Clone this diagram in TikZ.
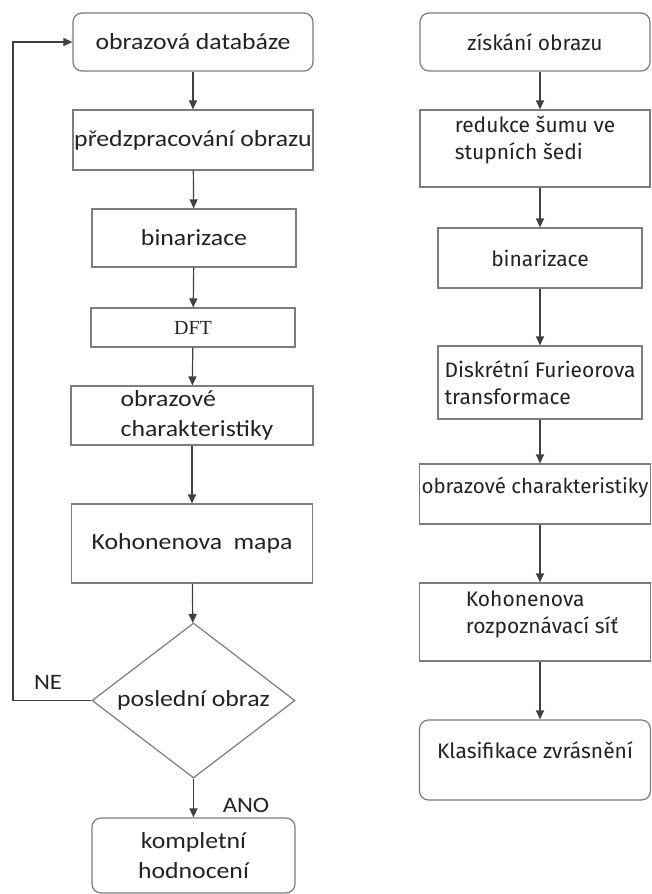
\documentclass[tikz,border=0pt]{standalone}
\usepackage{fontspec}
\setmainfont{Carlito}[FakeStretch=1.12]
\newfontfamily\rightfont{Fira Sans}
\newfontfamily\dftfont{Liberation Serif}
\usepackage{tikz}
\usetikzlibrary{shapes.geometric, arrows.meta, positioning}
\definecolor{boxgray}{RGB}{125,125,125}
\definecolor{textgray}{RGB}{35,35,35}

\begin{document}
\begin{tikzpicture}[x=1pt, y=-1pt,
  box/.style={rectangle, draw=boxgray, line width=1.2pt, inner sep=1pt,
              text=textgray, font=\fontsize{23}{30}\selectfont, align=center},
  rbox/.style={box, rounded corners=9pt},
  rtbox/.style={box, font=\rightfont\fontsize{21}{27}\selectfont, align=left},
  decision/.style={diamond, aspect=1.31, draw=boxgray, line width=1.2pt, inner sep=0pt,
              text=textgray, font=\fontsize{23}{30}\selectfont},
  arrow/.style={-{Triangle[length=9pt, width=8pt]}, line width=1.2pt, color=black!75},
  label/.style={font=\fontsize{22}{25}\selectfont, text=textgray}
]
  \useasboundingbox[fill=white] (0,0) rectangle (651,894);

  % left column
  \node[rbox, minimum width=240pt, minimum height=58pt] (db)   at (193,42)    {obrazová databáze};
  \node[box, minimum width=240pt, minimum height=60pt]  (pre)  at (193,140)   {předzpracování obrazu};
  \node[box, minimum width=204pt, minimum height=58pt]  (bin)  at (194,238)   {binarizace};
  \node[box, minimum width=204pt, minimum height=39pt,
        font=\dftfont\fontsize{20}{22}\selectfont]       (dft)  at (193,327.5) {DFT};
  \node[box, minimum width=242pt, minimum height=59pt, align=left] (feat) at (192,415.5) {\hspace{10pt}obrazové\\\hspace{10pt}charakteristiky};
  \node[box, minimum width=241pt, minimum height=79pt]  (koh)  at (192,543.5) {Kohonenova\enspace mapa};
  \node[decision, minimum width=203pt, minimum height=155pt] (last) at (193.5,700.5) {poslední obraz};
  \node[rbox, minimum width=203pt, minimum height=75pt] (done) at (193.5,855.5) {kompletní\\hodnocení};

  \coordinate (back) at (13,700.5);

  \draw[arrow] (db)   -- (pre);
  \draw[arrow] (pre)  -- (bin);
  \draw[arrow] (bin)  -- (dft);
  \draw[arrow] (dft)  -- (feat);
  \draw[arrow] (feat) -- (koh);
  \draw[arrow] (koh)  -- (last);
  \draw[arrow] (last) -- (done);
  \draw[arrow] (last.west) -- (back) |- (db.west);

  \node[label] (no)  at (48,682)  {NE};
  \node[label] (yes) at (246,805) {ANO};

  % right column
  \node[rtbox, rounded corners=9pt, minimum width=230pt, minimum height=58pt] (acq) at (535,42) {získání obrazu};
  \node[rtbox, minimum width=230pt, minimum height=77pt] (noise) at (535,148.5) {redukce šumu ve\\stupních šedi\\[-6pt]};
  \node[rtbox, minimum width=204pt, minimum height=60pt] (bin2)  at (540,258)   {binarizace};
  \node[rtbox, minimum width=204pt, minimum height=73pt] (dfur)  at (540,382.5) {Diskrétní Furieorova\\transformace};
  \node[rtbox, minimum width=231pt, minimum height=60pt,
        font=\rightfont\fontsize{20.5}{26}\selectfont]   (feat2) at (535,494)   {obrazové charakteristiky\\[-8pt]};
  \node[rtbox, minimum width=231pt, minimum height=78pt] (koh2)  at (535,622)   {\hspace{14pt}Kohonenova\\\hspace{14pt}rozpoznávací síť\\[-8pt]};
  \node[rtbox, rounded corners=9pt, minimum width=231pt, minimum height=80pt] (cls) at (535,760) {Klasifikace zvrásnění\\[-8pt]};

  \draw[arrow] (acq.south -| bin2)   -- (noise.north -| bin2);
  \draw[arrow] (noise.south -| bin2) -- (bin2);
  \draw[arrow] (bin2)                -- (dfur);
  \draw[arrow] (dfur)                -- (feat2.north -| dfur);
  \draw[arrow] (feat2.south -| dfur) -- (koh2.north -| dfur);
  \draw[arrow] (koh2.south -| dfur)  -- (cls.north -| dfur);
\end{tikzpicture}
\end{document}
